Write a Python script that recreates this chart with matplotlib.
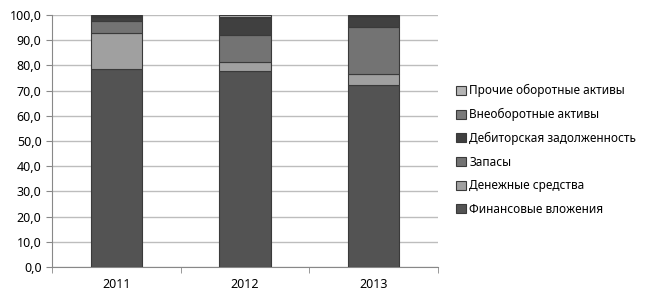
import numpy as np
import matplotlib.pyplot as plt
from matplotlib.ticker import FuncFormatter, FixedLocator

plt.rcParams['font.family'] = ['Noto Sans', 'DejaVu Sans']

years = ['2011', '2012', '2013']
series = ['Финансовые вложения', 'Денежные средства', 'Запасы',
          'Дебиторская задолженность', 'Внеоборотные активы',
          'Прочие оборотные активы']
fin = [78.7, 77.6, 72.3]
cash = [14.2, 3.7, 4.1]
stock = [4.7, 10.6, 18.9]
receiv = [1.5, 6.9, 4.3]
noncur = [0.4, 0.5, 0.2]
other = [0.5, 0.7, 0.2]
values = [fin, cash, stock, receiv, noncur, other]
colors = ['#535353', '#a0a0a0', '#737373', '#404040', '#7a7a7a', '#b4b4b4']

fig = plt.figure(figsize=(6.46, 3.0), dpi=100)
ax = fig.add_axes([0.0805, 0.11, 0.597, 0.84])

x = np.arange(len(years))
bottom = np.zeros(len(years))
handles = []
for name, vals, col in zip(series, values, colors):
    b = ax.bar(x, vals, 0.4, bottom=bottom, color=col, edgecolor='#3a3a3a',
               linewidth=0.8, label=name, zorder=3)
    handles.append(b)
    bottom += np.array(vals)

ax.set_xlim(-0.5, 2.5)
ax.set_ylim(0, 100)
ax.set_yticks(np.arange(0, 101, 10))
ax.yaxis.set_major_formatter(FuncFormatter(lambda v, p: f'{v:.1f}'.replace('.', ',')))
ax.set_xticks(x)
ax.set_xticklabels(years)
ax.xaxis.set_minor_locator(FixedLocator([-0.5, 0.5, 1.5, 2.5]))
ax.tick_params(axis='x', which='major', length=0, labelsize=9, pad=8)
ax.tick_params(axis='x', which='minor', length=4, color='#888888')
ax.tick_params(axis='y', length=4, color='#888888', labelsize=9)
ax.grid(axis='y', color='#bdbdbd', linewidth=1, zorder=0)
for s in ['top', 'right']:
    ax.spines[s].set_visible(False)
for s in ['left', 'bottom']:
    ax.spines[s].set_color('#888888')

fig.legend(handles[::-1], series[::-1], loc='center left',
           bbox_to_anchor=(0.69, 0.5), frameon=False, fontsize=8.5,
           handlelength=0.8, handleheight=0.8, handletextpad=0.3,
           labelspacing=0.9)

fig.savefig('out.png', dpi=100)
